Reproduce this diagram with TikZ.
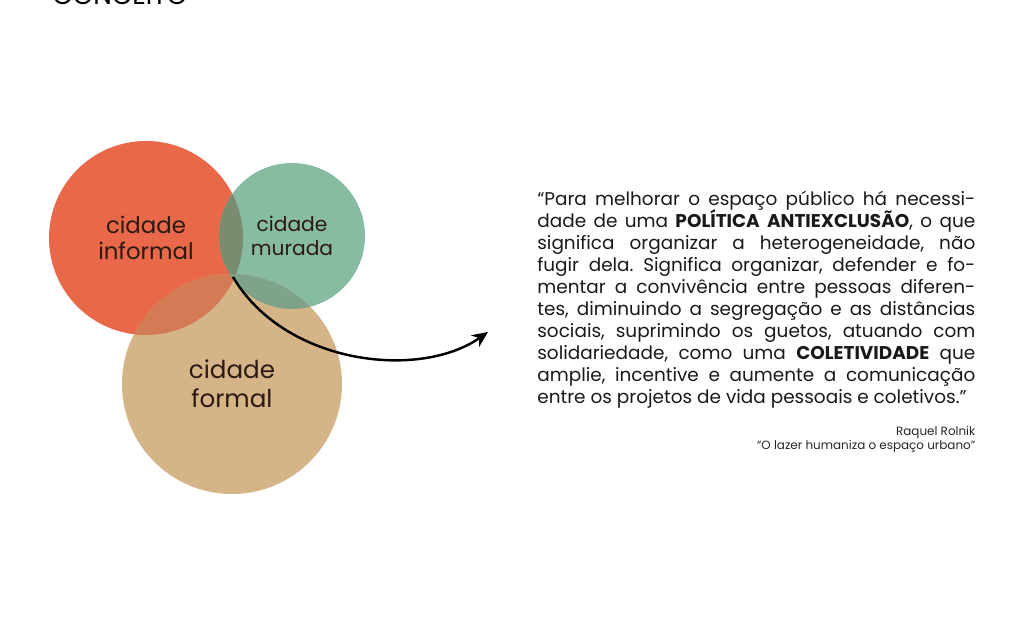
\documentclass[tikz,border=0pt]{standalone}
\usepackage{fontspec}
\setmainfont{Poppins}
\usetikzlibrary{arrows.meta, positioning}
\definecolor{rouge}{HTML}{E9684A}
\definecolor{vert}{HTML}{87BBA2}
\definecolor{sable}{HTML}{D5B488}
\definecolor{rougevert}{HTML}{7A8C70}
\definecolor{vertsable}{HTML}{7FA38A}
\definecolor{rougesable}{HTML}{D27B55}
\definecolor{encre}{HTML}{2B1A12}
\tikzset{bulle/.style={circle, inner sep=0pt, align=center, text=encre}}

\begin{document}
\begin{tikzpicture}
	\useasboundingbox (0,0) rectangle (20.48,12.8);
	
	% titre
	\node[anchor=base west, inner sep=0pt, font=\fontsize{15}{18}\selectfont] (titre) at (1.04,12.7) {CONCEITO};
	
	% cercles
	\node[bulle, fill=rouge, minimum size=3.88cm, font=\fontsize{13}{15}\selectfont] (informal) at (2.92,8.04) {cidade\\informal};
	\node[bulle, fill=vert, minimum size=2.92cm, font=\fontsize{11.5}{13.5}\selectfont] (murada) at (5.84,8.08) {cidade\\murada};
	\node[bulle, fill=sable, minimum size=4.4cm, font=\fontsize{14}{16.5}\selectfont] (formal) at (4.64,5.12) {cidade\\formal};
	
	% intersections
	\begin{scope}
		\clip (informal.center) circle (1.94);
		\fill[rougesable] (formal.center) circle (2.2);
		\fill[rougevert] (murada.center) circle (1.46);
	\end{scope}
	\begin{scope}
		\clip (murada.center) circle (1.46);
		\clip (formal.center) circle (2.2);
		\fill[vertsable] (formal.center) circle (2.2);
	\end{scope}
	
	% fleche
	\coordinate (jonction) at (4.66,7.26);
	\coordinate (pointe) at (9.76,6.16);
	\draw[-{Stealth[length=9pt, width=8pt]}, line width=1.4pt] (jonction) .. controls (5.70,5.50) and (8.40,5.20) .. (pointe);
	
	% citation
	\node[anchor=north west, inner sep=0pt, text width=8.76cm, align=justify, font=\fontsize{10.5}{12.5}\selectfont\frenchspacing, text=black!90] (citation) at (10.74,8.98) {\lineskiplimit-6pt\noindent
		“Para melhorar o espaço público há necessi-\linebreak
		dade de uma \smash{\textbf{POLÍTICA}} \smash{\textbf{ANTIEXCLUSÃO}}, o que\linebreak
		significa organizar a heterogeneidade, não\linebreak
		fugir dela. Significa organizar, defender e fo-\linebreak
		mentar a convivência entre pessoas diferen-\linebreak
		tes, diminuindo a segregação e as distâncias\linebreak
		sociais, suprimindo os guetos, atuando com\linebreak
		solidariedade, como uma \textbf{COLETIVIDADE} que\linebreak
		amplie, incentive e aumente a comunicação\linebreak
		entre os projetos de vida pessoais e coletivos.”};
	
	\node[below left=0.34cm and 0pt of citation.south east, anchor=north east, inner sep=0pt, align=right, font=\fontsize{6.8}{8}\selectfont, text=black!85] (auteur) {Raquel Rolnik\\“O lazer humaniza o espaço urbano”};
\end{tikzpicture}
\end{document}
